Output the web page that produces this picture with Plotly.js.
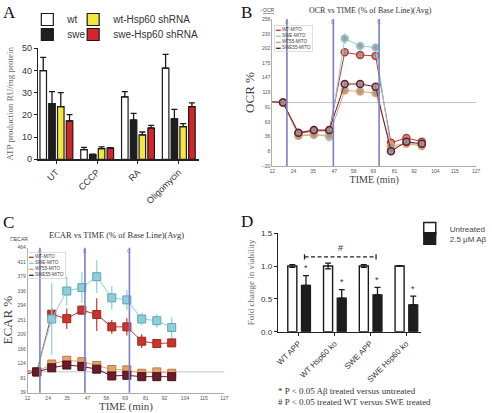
<!DOCTYPE html>
<html><head><meta charset="utf-8">
<script src="https://cdn.plot.ly/plotly-3.0.1.min.js"></script>
<style>html,body{margin:0;padding:0;background:#fff}#chart{width:492px;height:413px}</style>
</head><body><div id="chart"></div>
<script>
// ---------- Panel A : ATP production ----------
const atpCategories = ['UT', 'CCCP', 'RA', 'Oligomycin'];
const atpWt        = [39.9, 4.4, 28.1, 41.1];
const atpWtErr     = [6.0, 1.0, 2.4, 6.2];
const atpSwe       = [25.1, 2.1, 17.7, 18.2];
const atpSweErr    = [5.4, 0.2, 3.0, 4.3];
const atpWtSh      = [23.7, 4.8, 11.0, 14.7];
const atpWtShErr   = [6.3, 0.8, 1.3, 1.4];
const atpSweSh     = [17.3, 5.0, 14.1, 23.7];
const atpSweShErr  = [2.8, 0.2, 1.2, 1.7];

// ---------- Panel B : OCR vs time ----------
const ocrTime    = [9.4, 18.1, 26.8, 35.5, 44.2, 52.9, 61.6, 70.3, 79.0, 87.7, 96.4];
const ocrWt      = [102, 100, 42, 46, 47, 195, 190, 188, 24, 33, 26];
const ocrWtErr   = [3, 3, 5, 6, 5, 7, 6, 6, 6, 5, 5];
const ocrSwe     = [102, 100, 38, 40, 35, 221, 207, 204, 12, 24, 20];
const ocrSweErr  = [3, 3, 5, 5, 5, 10, 7, 6, 6, 6, 6];
const ocrWt55    = [102, 100, 37, 39, 38, 123, 121, 118, 18, 22, 18];
const ocrWt55Err = [3, 3, 5, 5, 5, 6, 6, 6, 6, 6, 6];
const ocrSwe55   = [102, 100, 43, 48, 48, 135, 135, 130, 8, 26, 22];
const ocrSwe55Err= [3, 3, 5, 8, 5, 6, 6, 6, 6, 6, 6];
const ocrTicksX  = [12, 24, 35, 47, 58, 69, 81, 92, 104, 115, 127];
const ocrTicksY  = [-20, 8, 36, 63, 91, 119, 147, 175, 202, 230, 258];
const ocrInjections = [20.3, 46.5, 72.3];

// ---------- Panel C : ECAR vs time ----------
const ecarTime    = [8.6, 17.3, 26.1, 34.9, 43.7, 52.4, 61.2, 70.0, 78.7, 87.5, 96.2];
const ecarWt      = [106, 100, 269, 256, 281, 268, 232, 232, 190, 183, 185];
const ecarWtErr   = [4, 4, 18, 30, 14, 48, 20, 25, 20, 12, 12];
const ecarSwe     = [104, 100, 255, 337, 347, 379, 317, 311, 255, 250, 230];
const ecarSweErr  = [4, 4, 105, 42, 45, 48, 35, 30, 18, 20, 30];
const ecarWt55    = [105, 100, 123, 134, 130, 119, 107, 106, 96, 100, 96];
const ecarWt55Err = [4, 4, 10, 10, 10, 10, 10, 10, 10, 10, 8];
const ecarSwe55   = [92, 100, 112, 120, 116, 108, 88, 90, 86, 86, 86];
const ecarSwe55Err= [4, 4, 10, 10, 10, 10, 10, 10, 8, 8, 8];
const ecarTicksX  = [12, 24, 35, 47, 58, 69, 81, 92, 104, 115, 127];
const ecarTicksY  = [39, 81, 124, 166, 209, 251, 294, 336, 379, 421, 464];
const ecarInjections = [19.2, 45.5, 71.5];

const seriesNames = ['WT-MITO', 'SWE-MITO', 'WT55-MITO', 'SWE55-MITO'];
const injectionNames = ['A', 'B', 'C'];

// ---------- Panel D : viability ----------
const vCategories   = ['WT APP', 'WT Hsp60 ko', 'SWE APP', 'SWE Hsp60 ko'];
const vUntreated    = [1.0, 1.0, 1.0, 1.0];
const vUntreatedErr = [0.02, 0.045, 0.02, 0.005];
const vAbeta        = [0.705, 0.51, 0.56, 0.41];
const vAbetaErr     = [0.148, 0.13, 0.115, 0.13];

// ---------- styling ----------
const W = 492, H = 413;
const px = v => v / W, py = v => 1 - v / H;
const SERIF = 'Liberation Serif, DejaVu Serif, serif';
const SANS = 'Liberation Sans, Arial, sans-serif';
const lineCols = ['#c8352e', '#8ccfd9', '#e6a26a', '#6b1c2b'];
const edgeCols = ['#9a2620', '#5ea7b3', '#b97a48', '#4a1019'];
const injCol = '#7d7fc4';

const traces = [];
// Panel A bars
const aBarW = 0.16;
const aSets = [
  {name: 'wt', y: atpWt, e: atpWtErr, col: '#ffffff', off: -0.399, lg: 'legend'},
  {name: 'swe', y: atpSwe, e: atpSweErr, col: '#1e1e1e', off: -0.184, lg: 'legend2'},
  {name: 'wt-Hsp60 shRNA', y: atpWtSh, e: atpWtShErr, col: '#f3e63c', off: 0.031, lg: 'legend5'},
  {name: 'swe-Hsp60 shRNA', y: atpSweSh, e: atpSweShErr, col: '#d4252b', off: 0.246, lg: 'legend6'}
];
aSets.forEach(s => traces.push({
  type: 'bar', x: atpCategories, y: s.y, name: s.name, xaxis: 'x', yaxis: 'y',
  width: aBarW, offset: s.off, legend: s.lg,
  marker: {color: s.col, line: {color: '#1a1a1a', width: 1.2}},
  error_y: {type: 'data', array: s.e, arrayminus: s.e.map(() => 0), symmetric: false,
            color: '#1a1a1a', thickness: 1.3, width: 3}
}));

// Panel B lines
[[ocrWt, ocrWtErr], [ocrSwe, ocrSweErr], [ocrWt55, ocrWt55Err], [ocrSwe55, ocrSwe55Err]].forEach((d, i) => traces.push({
  type: 'scatter', mode: 'lines+markers', x: ocrTime, y: d[0], name: seriesNames[i],
  xaxis: 'x2', yaxis: 'y2', showlegend: false, cliponaxis: true,
  line: {color: lineCols[i], width: 1},
  marker: {symbol: 'circle', size: 7, color: 'rgba(150,150,150,0.85)', line: {color: lineCols[i], width: 1.5}},
  error_y: {type: 'data', array: d[1], color: lineCols[i], thickness: 1, width: 0}
}));

// Panel C lines
[[ecarWt, ecarWtErr], [ecarSwe, ecarSweErr], [ecarWt55, ecarWt55Err], [ecarSwe55, ecarSwe55Err]].forEach((d, i) => traces.push({
  type: 'scatter', mode: 'lines+markers', x: ecarTime, y: d[0], name: seriesNames[i],
  xaxis: 'x3', yaxis: 'y3', showlegend: false, cliponaxis: true,
  line: {color: lineCols[i], width: 1},
  marker: {symbol: 'square', size: 8, color: lineCols[i], line: {color: edgeCols[i], width: 1}},
  error_y: {type: 'data', array: d[1], color: lineCols[i], thickness: 1.2, width: 0}
}));

// Panel D bars
const dBarW = 0.253;
traces.push({
  type: 'bar', x: vCategories, y: vUntreated, name: 'Untreated', xaxis: 'x4', yaxis: 'y4',
  width: dBarW, offset: -0.308, legend: 'legend3',
  marker: {color: '#ffffff', line: {color: '#1a1a1a', width: 1.4}},
  error_y: {type: 'data', array: vUntreatedErr, color: '#1a1a1a', thickness: 1.3, width: 3}
});
traces.push({
  type: 'bar', x: vCategories, y: vAbeta, name: '2.5 μM Aβ', xaxis: 'x4', yaxis: 'y4',
  width: dBarW, offset: 0.074, legend: 'legend4',
  marker: {color: '#1e1e1e', line: {color: '#1a1a1a', width: 1.2}},
  error_y: {type: 'data', array: vAbetaErr, arrayminus: vAbetaErr.map(() => 0), symmetric: false,
            color: '#1a1a1a', thickness: 1.3, width: 3}
});

// ---------- axes ----------
const smallTick = {family: SANS, size: 5, color: '#555'};
const legA = (x, y) => ({x: px(x), y: py(y), xanchor: 'left', yanchor: 'top', font: {family: SANS, size: 10, color: '#333'},
                         bgcolor: 'rgba(0,0,0,0)', itemwidth: 30});
const legD = (x, y) => ({x: px(x), y: py(y), xanchor: 'left', yanchor: 'top', font: {family: SANS, size: 8, color: '#444'},
                         bgcolor: 'rgba(0,0,0,0)', itemwidth: 30});
const layout = {
  width: W, height: H, margin: {l: 0, r: 0, t: 0, b: 0},
  paper_bgcolor: '#fff', plot_bgcolor: 'rgba(0,0,0,0)',
  barmode: 'overlay', showlegend: true,
  font: {family: SANS, color: '#333'},
  // A
  xaxis: {domain: [px(39), px(204)], range: [-0.446, 3.5], anchor: 'y', type: 'category',
          showline: true, linecolor: '#222', linewidth: 1.2, ticks: 'outside', ticklen: 3, tickcolor: '#222',
          tickangle: -45, tickfont: {family: SANS, size: 9, color: '#333'}, showgrid: false, zeroline: false},
  yaxis: {domain: [py(159.3), py(48.3)], range: [0, 50], anchor: 'x', tickvals: [0, 10, 20, 30, 40, 50],
          showline: true, linecolor: '#222', linewidth: 1.2, ticks: 'outside', ticklen: 3, tickcolor: '#222',
          tickfont: {family: SANS, size: 9, color: '#333'}, showgrid: false, zeroline: false,
          title: {text: 'ATP production RU/mg protein', font: {family: SERIF, size: 9, color: '#666'}, standoff: 6}},
  // B
  xaxis2: {domain: [px(279), px(488)], range: [12, 127], anchor: 'y2', tickvals: ocrTicksX,
           showline: true, linecolor: '#999', linewidth: 0.8, ticks: '', tickfont: smallTick,
           showgrid: false, zeroline: false,
           title: {text: 'TIME (min)', font: {family: SERIF, size: 10, color: '#444'}, standoff: 3}},
  yaxis2: {domain: [py(166), py(19)], range: [-20, 258], anchor: 'x2', tickvals: ocrTicksY,
           showline: true, linecolor: '#999', linewidth: 0.8, ticks: '', tickfont: smallTick,
           showgrid: false, zeroline: false,
           title: {text: 'OCR %', font: {family: SERIF, size: 13, color: '#444'}, standoff: 4}},
  // C
  xaxis3: {domain: [px(28.3), px(230)], range: [12, 127], anchor: 'y3', tickvals: ecarTicksX,
           showline: true, linecolor: '#999', linewidth: 0.8, ticks: '', tickfont: smallTick,
           showgrid: false, zeroline: false,
           title: {text: 'TIME (min)', font: {family: SERIF, size: 11, color: '#444'}, standoff: 3}},
  yaxis3: {domain: [py(392.7), py(247.7)], range: [39, 464], anchor: 'x3', tickvals: ecarTicksY,
           showline: true, linecolor: '#999', linewidth: 0.8, ticks: '', tickfont: smallTick,
           showgrid: false, zeroline: false,
           title: {text: 'ECAR %', font: {family: SERIF, size: 13, color: '#444'}, standoff: 3}},
  // D
  xaxis4: {domain: [px(285), px(432)], range: [-0.58, 3.43], anchor: 'y4', type: 'category',
           showline: true, linecolor: '#222', linewidth: 1.2, ticks: 'outside', ticklen: 3, tickcolor: '#222',
           tickangle: -45, tickfont: {family: SANS, size: 8, color: '#333'}, showgrid: false, zeroline: false},
  yaxis4: {domain: [py(331.7), py(233.15)], range: [0, 1.5], anchor: 'x4', tickvals: [0, 0.5, 1.0, 1.5],
           ticktext: ['0.0', '0.5', '1.0', '1.5'],
           showline: true, linecolor: '#222', linewidth: 1.2, ticks: 'outside', ticklen: 3, tickcolor: '#222',
           tickfont: {family: SANS, size: 8, color: '#333'}, showgrid: false, zeroline: false,
           title: {text: 'Fold change in viability', font: {family: SERIF, size: 9, color: '#666'}, standoff: 5}},
  legend:  legA(28, 5),
  legend2: legA(28, 20),
  legend5: legA(75, 5),
  legend6: legA(75, 20),
  legend3: legD(420, 214),
  legend4: legD(420, 224),
  shapes: [], annotations: []
};

// baselines and injection lines
[['x2', 'y2', ocrInjections], ['x3', 'y3', ecarInjections]].forEach(([xa, ya, inj]) => {
  layout.shapes.push({type: 'line', xref: xa + ' domain', yref: ya, x0: 0, x1: 1, y0: 100, y1: 100,
                      line: {color: '#c4c4c4', width: 1}, layer: 'below'});
  inj.forEach((t, k) => {
    layout.shapes.push({type: 'line', xref: xa, yref: ya + ' domain', x0: t, x1: t, y0: 0, y1: 1,
                        line: {color: injCol, width: 1.6}});
    layout.annotations.push({xref: xa, yref: ya + ' domain', x: t, y: 1.012, xanchor: 'center', yanchor: 'top', showarrow: false,
                             text: injectionNames[k], font: {family: SANS, size: 5, color: injCol}});
  });
});

// mini legends B and C (boxed)
const miniLegend = seriesNames.map((n, i) =>
  '<span style="color:' + lineCols[i] + '">▬</span> ' + n).join('<br>');
const miniBox = {showarrow: false, align: 'left', xanchor: 'left', yanchor: 'top', xref: 'paper', yref: 'paper',
  bordercolor: '#c8c8c8', borderwidth: 0.6, borderpad: 1.5, bgcolor: 'rgba(0,0,0,0)',
  text: miniLegend, font: {family: SANS, size: 4.6, color: '#444'}};
layout.annotations.push(Object.assign({}, miniBox, {x: px(281), y: py(25)}));
layout.annotations.push(Object.assign({}, miniBox, {x: px(28), y: py(252)}));

// panel titles / letters / checkbox labels
const ann = (x, y, text, font, extra) => layout.annotations.push(Object.assign(
  {xref: 'paper', yref: 'paper', x: px(x), y: py(y), xanchor: 'center', yanchor: 'middle',
   showarrow: false, text: text, font: font}, extra || {}));
ann(1, 1, 'A', {family: SERIF, size: 17, color: '#111'}, {xanchor: 'left', yanchor: 'top'});
ann(245, 1, 'B', {family: SERIF, size: 17, color: '#111'}, {xanchor: 'left', yanchor: 'top'});
ann(1, 211, 'C', {family: SERIF, size: 17, color: '#111'}, {xanchor: 'left', yanchor: 'top'});
ann(245, 210, 'D', {family: SERIF, size: 17, color: '#111'}, {xanchor: 'left', yanchor: 'top'});
ann(380, 10, 'OCR vs TIME (% of Base Line)(Avg)', {family: SERIF, size: 8, color: '#333'});
ann(119, 235, 'ECAR vs TIME (% of Base Line)(Avg)', {family: SERIF, size: 8.5, color: '#333'});
ann(264, 10, '○<u>OCR</u>', {family: SANS, size: 5, color: '#444'}, {xanchor: 'left'});
ann(8, 239, '☐ECAR', {family: SANS, size: 5, color: '#444'}, {xanchor: 'left'});

// Panel D significance marks
vCategories.forEach((c, i) => layout.annotations.push({xref: 'x4', yref: 'y4', x: i + 0.074 + dBarW / 2,
  y: vAbeta[i] + vAbetaErr[i] + 0.01, xanchor: 'center', yanchor: 'bottom', showarrow: false, text: '*',
  font: {family: SANS, size: 9, color: '#333'}}));
layout.shapes.push({type: 'line', xref: 'x4', yref: 'y4', x0: 0.16, x1: 2.16, y0: 1.14, y1: 1.14,
                    line: {color: '#222', width: 1.3, dash: '4px,2.5px'}});
[0.16, 2.16].forEach(xv => layout.shapes.push({type: 'line', xref: 'x4', yref: 'y4', x0: xv, x1: xv,
  y0: 1.1, y1: 1.18, line: {color: '#222', width: 1.3}}));
layout.annotations.push({xref: 'x4', yref: 'y4', x: 1.16, y: 1.16, xanchor: 'center', yanchor: 'bottom', showarrow: false, text: '#',
  font: {family: SANS, size: 9, color: '#333'}});
ann(283, 391, '* P < 0.05 Aβ treated versus untreated', {family: SERIF, size: 9, color: '#333'}, {xanchor: 'left'});
ann(283, 402, '# P < 0.05 treated WT versus SWE treated', {family: SERIF, size: 9, color: '#333'}, {xanchor: 'left'});

Plotly.newPlot('chart', traces, layout, {staticPlot: true, displayModeBar: false});
</script>
</body></html>
